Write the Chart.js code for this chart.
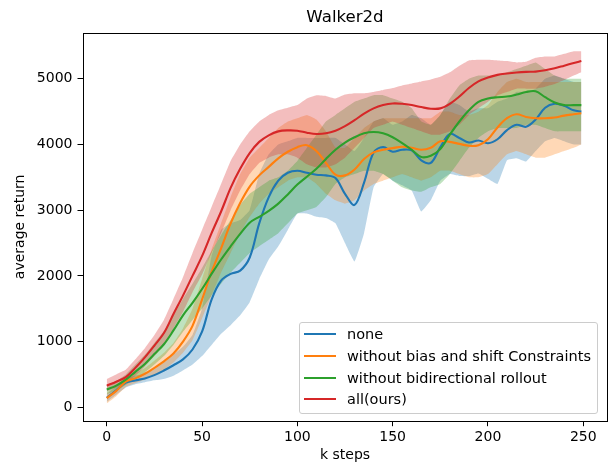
<!DOCTYPE html>
<html>
<head>
<meta charset="utf-8">
<script src="https://cdn.jsdelivr.net/npm/chart.js@4.4.1/dist/chart.umd.min.js"></script>
<style>
html,body{margin:0;padding:0;background:#fff;}
#wrap{position:relative;width:613px;height:467px;overflow:hidden;}
#c{position:absolute;left:0;top:0;}
#legend{position:absolute;left:299px;top:322px;width:297px;height:90px;border:1px solid #cccccc;border-radius:3px;background:rgba(255,255,255,0.8);font-family:"DejaVu Sans";font-size:14.5px;color:#000;z-index:2;}
.row{position:absolute;left:0;width:100%;height:20px;line-height:20px;}
.sw{position:absolute;left:4px;top:9px;width:32px;height:2px;}
.tx{position:absolute;left:47px;top:0;white-space:nowrap;}
</style>
</head>
<body>
<div id="wrap">
<canvas id="c" width="613" height="467"></canvas>
<div id="legend"></div>
</div>
<script>
// ---- data ----
const steps = [0,5,10,15,20,25,30,35,40,45,50,55,60,65,70,75,80,85,90,95,100,105,110,115,120,125,130,135,140,145,150,155,160,165,170,175,180,185,190,195,200,205,210,215,220,225,230,235,240,245,249];

const noneMean = [146,260,375,410,440,490,560,640,730,880, 1150,1640,1930,2030,2080,2280,2800,3200,3450,3570, 3600,3570,3540,3530,3490,3250,3080,3420,3880,3960, 3890,3920,3910,3760,3720,3960,4160,4100,4030,4060, 4020,4080,4220,4300,4270,4380,4560,4620,4590,4520, 4500];
const noneLow  = [80,190,300,350,380,410,430,480,560,650, 780,950,1120,1250,1400,1600,1950,2250,2450,2700, 2950,2950,2900,2880,2800,2500,2220,2650,3350,3550, 3450,3380,3300,2980,3150,3450,3550,3520,3520,3560, 3480,3400,3760,3790,3740,3900,4050,4100,4050,4000, 4000];
const noneHigh = [200,320,440,480,510,580,680,800,920,1100, 1500,2300,2700,2800,2850,3000,3550,3850,4000,4050, 4100,4100,4100,4100,4100,4000,3900,4100,4350,4400, 4300,4350,4450,4400,4300,4450,4650,4600,4500,4550, 4550,4650,4700,4800,4800,4850,5000,5050,5000,4950, 4950];

const biasMean = [140,250,390,440,510,600,700,820,1000,1240, 1640,2060,2420,2800,3110,3360,3530,3660,3790,3890, 3960,3990,3900,3720,3540,3530,3620,3780,3880,3920, 3945,3965,3950,3920,3950,4050,4040,4010,3980,3990, 4080,4260,4400,4460,4420,4400,4400,4410,4440,4460, 4475];
const biasLow  = [60,170,310,370,420,490,570,680,830,1020, 1350,1700,2050,2350,2650,2900,3100,3250,3350,3450, 3500,3500,3400,3250,3150,3100,3150,3300,3400,3450, 3500,3550,3500,3450,3500,3600,3600,3550,3500,3500, 3550,3700,3850,3900,3850,3800,3800,3850,3900,3950, 4000];
const biasHigh = [220,330,470,520,600,710,830,980,1200,1500, 1950,2400,2800,3200,3550,3800,3950,4100,4250,4350, 4400,4450,4380,4200,3950,3950,4100,4250,4350,4400, 4400,4400,4400,4400,4400,4500,4500,4450,4450,4500, 4600,4800,4950,5000,4950,4950,4950,4950,4950,4950, 4950];

const bidiMean = [270,330,420,540,660,810,960,1170,1400,1590, 1800,2030,2250,2450,2640,2810,2900,2990,3100,3240, 3390,3510,3630,3780,3920,4030,4110,4170,4190,4170, 4110,4020,3920,3810,3830,3930,4150,4350,4520,4650, 4700,4720,4730,4760,4800,4810,4720,4640,4600,4600, 4600];
const bidiLow  = [200,260,340,430,530,650,780,950,1150,1330, 1500,1700,1880,2050,2200,2350,2450,2550,2650,2800, 2950,3000,3050,3200,3400,3500,3550,3600,3600,3550, 3450,3350,3300,3280,3350,3400,3550,3750,3950,4100, 4200,4250,4250,4250,4300,4300,4250,4200,4200,4200, 4200];
const bidiHigh = [340,400,500,650,800,980,1160,1400,1650,1880, 2120,2380,2620,2850,3080,3250,3350,3450,3500,3600, 3750,3950,4150,4350,4450,4550,4650,4700,4750,4750, 4700,4650,4550,4350,4300,4450,4700,4900,5000,5050, 5050,5050,5100,5150,5200,5250,5150,5050,5000,5000, 5000];

const oursMean = [330,390,460,600,760,940,1130,1420,1700,2000, 2300,2650,2980,3340,3630,3870,4040,4140,4200,4215, 4210,4180,4160,4170,4210,4280,4370,4470,4550,4600, 4625,4620,4600,4570,4545,4550,4620,4730,4860,4960, 5020,5060,5080,5095,5105,5110,5130,5160,5200,5240, 5270];
const oursLow  = [240,300,370,480,620,780,950,1200,1450,1750, 2020,2350,2650,3000,3300,3550,3720,3800,3850,3850, 3800,3700,3650,3650,3700,3800,3950,4100,4250,4300, 4350,4300,4250,4200,4150,4150,4200,4300,4450,4550, 4650,4750,4800,4850,4850,4850,4880,4920,4980,5050, 5100];
const oursHigh = [430,500,570,730,900,1100,1330,1650,1980,2350, 2700,3050,3400,3750,4000,4200,4350,4450,4520,4560, 4600,4700,4750,4740,4700,4760,4780,4780,4800,4830, 4860,4900,4930,4960,4990,5030,5100,5200,5280,5290, 5290,5280,5270,5250,5260,5320,5340,5340,5380,5420, 5420];

const labels = ['none','without bias and shift Constraints','without bidirectional rollout','all(ours)'];
const xTicks = [0,50,100,150,200,250];
const yTicks = [0,1000,2000,3000,4000,5000];

// ---- styling ----
const lineColors = ['#1f77b4','#ff7f0e','#2ca02c','#d62728'];
const bandColors = ['rgba(31,119,180,0.3)','rgba(255,127,14,0.3)','rgba(44,160,44,0.3)','rgba(214,39,40,0.3)'];
const FONT = 'DejaVu Sans';
const F = {family: FONT, size: 14};

const means = [noneMean, biasMean, bidiMean, oursMean];
const lows = [noneLow, biasLow, bidiLow, oursLow];
const highs = [noneHigh, biasHigh, bidiHigh, oursHigh];
const pts = arr => steps.map((x, i) => ({x: x, y: arr[i]}));

const datasets = [];
for (let i = 0; i < 4; i++) {
  datasets.push({label: labels[i] + ' hi', data: pts(highs[i]), borderWidth: 0, borderColor: 'transparent',
    backgroundColor: bandColors[i], fill: '+1', pointRadius: 0, tension: 0.1, order: 20 - 2 * i});
  datasets.push({label: labels[i] + ' lo', data: pts(lows[i]), borderWidth: 0, borderColor: 'transparent',
    backgroundColor: 'transparent', fill: false, pointRadius: 0, tension: 0.1, order: 19 - 2 * i});
}
for (let i = 0; i < 4; i++) {
  datasets.push({label: labels[i], data: pts(means[i]), borderColor: lineColors[i], borderWidth: 2.1,
    backgroundColor: lineColors[i], fill: false, pointRadius: 0, tension: 0.35, order: 3 - i});
}

const frame = {
  id: 'frame',
  afterDraw(chart) {
    const a = chart.chartArea, ctx = chart.ctx;
    ctx.save();
    ctx.strokeStyle = '#000';
    ctx.lineWidth = 1;
    ctx.strokeRect(Math.round(a.left) + 0.5, Math.round(a.top) + 0.5, Math.round(a.right - a.left), Math.round(a.bottom - a.top));
    ctx.restore();
  }
};

new Chart(document.getElementById('c'), {
  type: 'line',
  data: {datasets: datasets},
  plugins: [frame],
  options: {
    responsive: false,
    animation: false,
    events: [],
    layout: {padding: {left: 0, right: 6, top: 0, bottom: 0}},
    plugins: {
      legend: {display: false},
      tooltip: {enabled: false},
      title: {display: true, text: 'Walker2d', fullSize: false, color: '#000',
        font: {family: FONT, size: 16.6, weight: 'normal'}, padding: {top: 7.5, bottom: 5.6}},
      filler: {propagate: false}
    },
    scales: {
      x: {
        type: 'linear', min: -12.45, max: 262.45,
        afterBuildTicks: s => { s.ticks = xTicks.map(v => ({value: v})); },
        afterFit: s => { s.height = 46.3; },
        ticks: {font: F, color: '#000', padding: 3, maxRotation: 0, autoSkip: false, callback: v => String(v)},
        grid: {drawOnChartArea: false, drawTicks: true, tickLength: 5.5, tickColor: '#000', tickWidth: 1},
        border: {display: false},
        title: {display: true, text: 'k steps', color: '#000', font: F, padding: {top: 0, bottom: 3}}
      },
      y: {
        type: 'linear', min: -204, max: 5697,
        afterBuildTicks: s => { s.ticks = yTicks.map(v => ({value: v})); },
        afterFit: s => { s.width = 83; },
        ticks: {font: F, color: '#000', padding: 5, autoSkip: false, callback: v => String(v)},
        grid: {drawOnChartArea: false, drawTicks: true, tickLength: 5.5, tickColor: '#000', tickWidth: 1},
        border: {display: false},
        title: {display: true, text: 'average return', color: '#000', font: F, padding: {top: 12, bottom: 0}}
      }
    }
  }
});

// legend (HTML, real text)
const lg = document.getElementById('legend');
const rowCenters = [11, 32.7, 54.7, 76.3];
for (let i = 0; i < 4; i++) {
  const r = document.createElement('div');
  r.className = 'row';
  r.style.top = (rowCenters[i] - 10) + 'px';
  const sw = document.createElement('span');
  sw.className = 'sw';
  sw.style.background = lineColors[i];
  const tx = document.createElement('span');
  tx.className = 'tx';
  tx.textContent = labels[i];
  r.appendChild(sw); r.appendChild(tx);
  lg.appendChild(r);
}
</script>
</body>
</html>
